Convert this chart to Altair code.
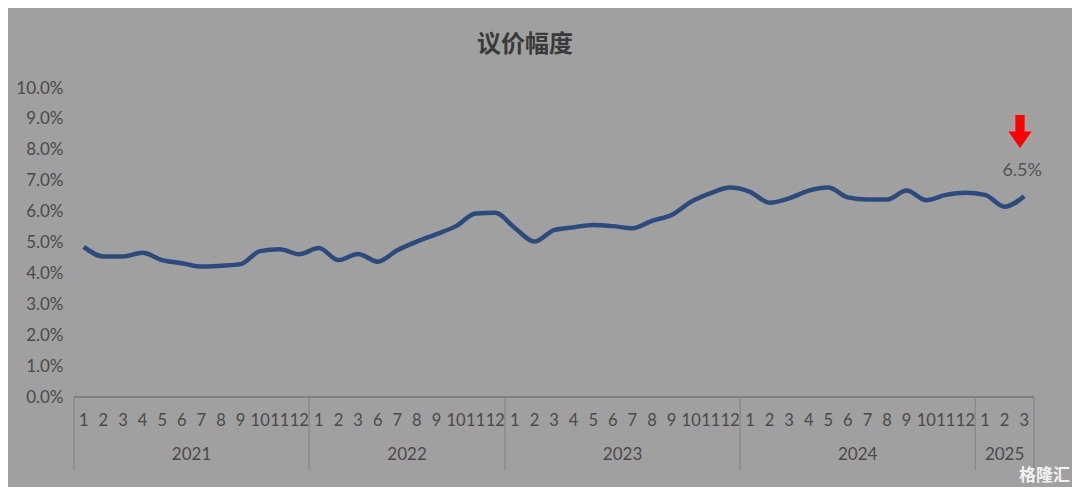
import altair as alt
import pandas as pd

# ---- data (percent) ----
years = ["2021", "2022", "2023", "2024", "2025"]
months_2021 = [1, 2, 3, 4, 5, 6, 7, 8, 9, 10, 11, 12]
vals_2021 = [4.86, 4.55, 4.55, 4.67, 4.43, 4.33, 4.22, 4.25, 4.30, 4.72, 4.78, 4.62]
months_2022 = [1, 2, 3, 6, 7, 8, 9, 10, 11, 12]
vals_2022 = [4.82, 4.43, 4.63, 4.38, 4.75, 5.03, 5.27, 5.53, 5.94, 5.96]
months_2023 = [1, 2, 3, 4, 5, 6, 7, 8, 9, 10, 11, 12]
vals_2023 = [5.47, 5.03, 5.40, 5.49, 5.57, 5.53, 5.46, 5.70, 5.89, 6.32, 6.60, 6.78]
months_2024 = [1, 2, 3, 4, 5, 6, 7, 8, 9, 10, 11, 12]
vals_2024 = [6.64, 6.29, 6.43, 6.68, 6.78, 6.46, 6.39, 6.39, 6.68, 6.37, 6.54, 6.61]
months_2025 = [1, 2, 3]
vals_2025 = [6.54, 6.16, 6.50]
y_ticks = [0, 1, 2, 3, 4, 5, 6, 7, 8, 9, 10]
title_text = "议价幅度"
last_label = "6.5%"

month_lists = [months_2021, months_2022, months_2023, months_2024, months_2025]
val_lists = [vals_2021, vals_2022, vals_2023, vals_2024, vals_2025]

rows, year_rows, seps = [], [], [0]
idx = 0
for yr, ms, vs in zip(years, month_lists, val_lists):
    start = idx
    for m, v in zip(ms, vs):
        rows.append({"pos": idx + 0.5, "month": str(m), "value": v})
        idx += 1
    year_rows.append({"pos": (start + idx) / 2, "year": yr})
    seps.append(idx)
df = pd.DataFrame(rows)
df_year = pd.DataFrame(year_rows)
df_sep = pd.DataFrame({"pos": seps})
N = idx

FONT = "Lato"
TXT = "#4a4a4a"
W, H = 960, 309

xs = alt.Scale(domain=[0, N], nice=False, zero=False)
X = alt.X("pos:Q", scale=xs, axis=None)

line = alt.Chart(df).mark_line(
    color="#2c4a7c", strokeWidth=4.5, interpolate="monotone"
).encode(
    x=X,
    y=alt.Y(
        "value:Q",
        scale=alt.Scale(domain=[0, 10], nice=False),
        axis=alt.Axis(
            values=y_ticks,
            labelExpr="format(datum.value,'.1f')+'%'",
            grid=False, ticks=False, domain=False,
            labelFontSize=17, labelColor=TXT, labelFont=FONT, labelPadding=11,
        ),
        title=None,
    ),
)

month_txt = alt.Chart(df).mark_text(
    fontSize=16.5, font=FONT, color=TXT, baseline="middle"
).encode(x=X, y=alt.value(333), text="month:N")

year_txt = alt.Chart(df_year).mark_text(
    fontSize=17, font=FONT, color=TXT, baseline="middle"
).encode(x=X, y=alt.value(367), text="year:N")

sep_rules = alt.Chart(df_sep).mark_rule(color="#808080", strokeWidth=1).encode(
    x=X, y=alt.value(H), y2=alt.value(382)
)

base_rule = alt.Chart(df_sep).mark_rule(color="#808080", strokeWidth=1).encode(
    x=alt.value(0), x2=alt.value(W), y=alt.value(H)
)

one = pd.DataFrame({"t": [title_text]})
title = alt.Chart(one).mark_text(
    fontSize=24, font="Noto Sans CJK SC", fontWeight="bold", color="#3a3a3a",
    baseline="middle",
).encode(x=alt.value(451), y=alt.value(-43), text="t:N")

lab = pd.DataFrame({"t": [last_label], "pos": [N - 0.5]})
last_txt = alt.Chart(lab).mark_text(
    fontSize=18, font=FONT, color="#555555", baseline="middle", dx=-2
).encode(x=X, y=alt.value(83), text="t:N")

arrow = alt.Chart(lab).mark_point(
    shape="M-0.28,-1L0.28,-1L0.28,0L0.7,0L0,1L-0.7,0L-0.28,0Z",
    filled=True, color="#ff0000", opacity=1, size=1089,
).encode(x=alt.value(946), y=alt.value(43.5))

wm = alt.Chart(pd.DataFrame({"t": ["格隆汇"]})).mark_text(
    fontSize=17, font="Noto Sans CJK SC", fontWeight="bold", color="#f2f2f2",
    align="right", baseline="middle",
).encode(x=alt.value(996), y=alt.value(388), text="t:N")

chart = alt.layer(
    sep_rules, base_rule, line, month_txt, year_txt, title, last_txt, arrow, wm
).properties(
    width=W, height=H,
    autosize=alt.AutoSizeParams(type="none"),
    padding={"left": 66, "top": 80, "right": 38, "bottom": 90},
).configure(background="#a0a0a0").configure_view(stroke=None)

chart.save("out.html", embed_options={"renderer": "svg", "actions": False})
